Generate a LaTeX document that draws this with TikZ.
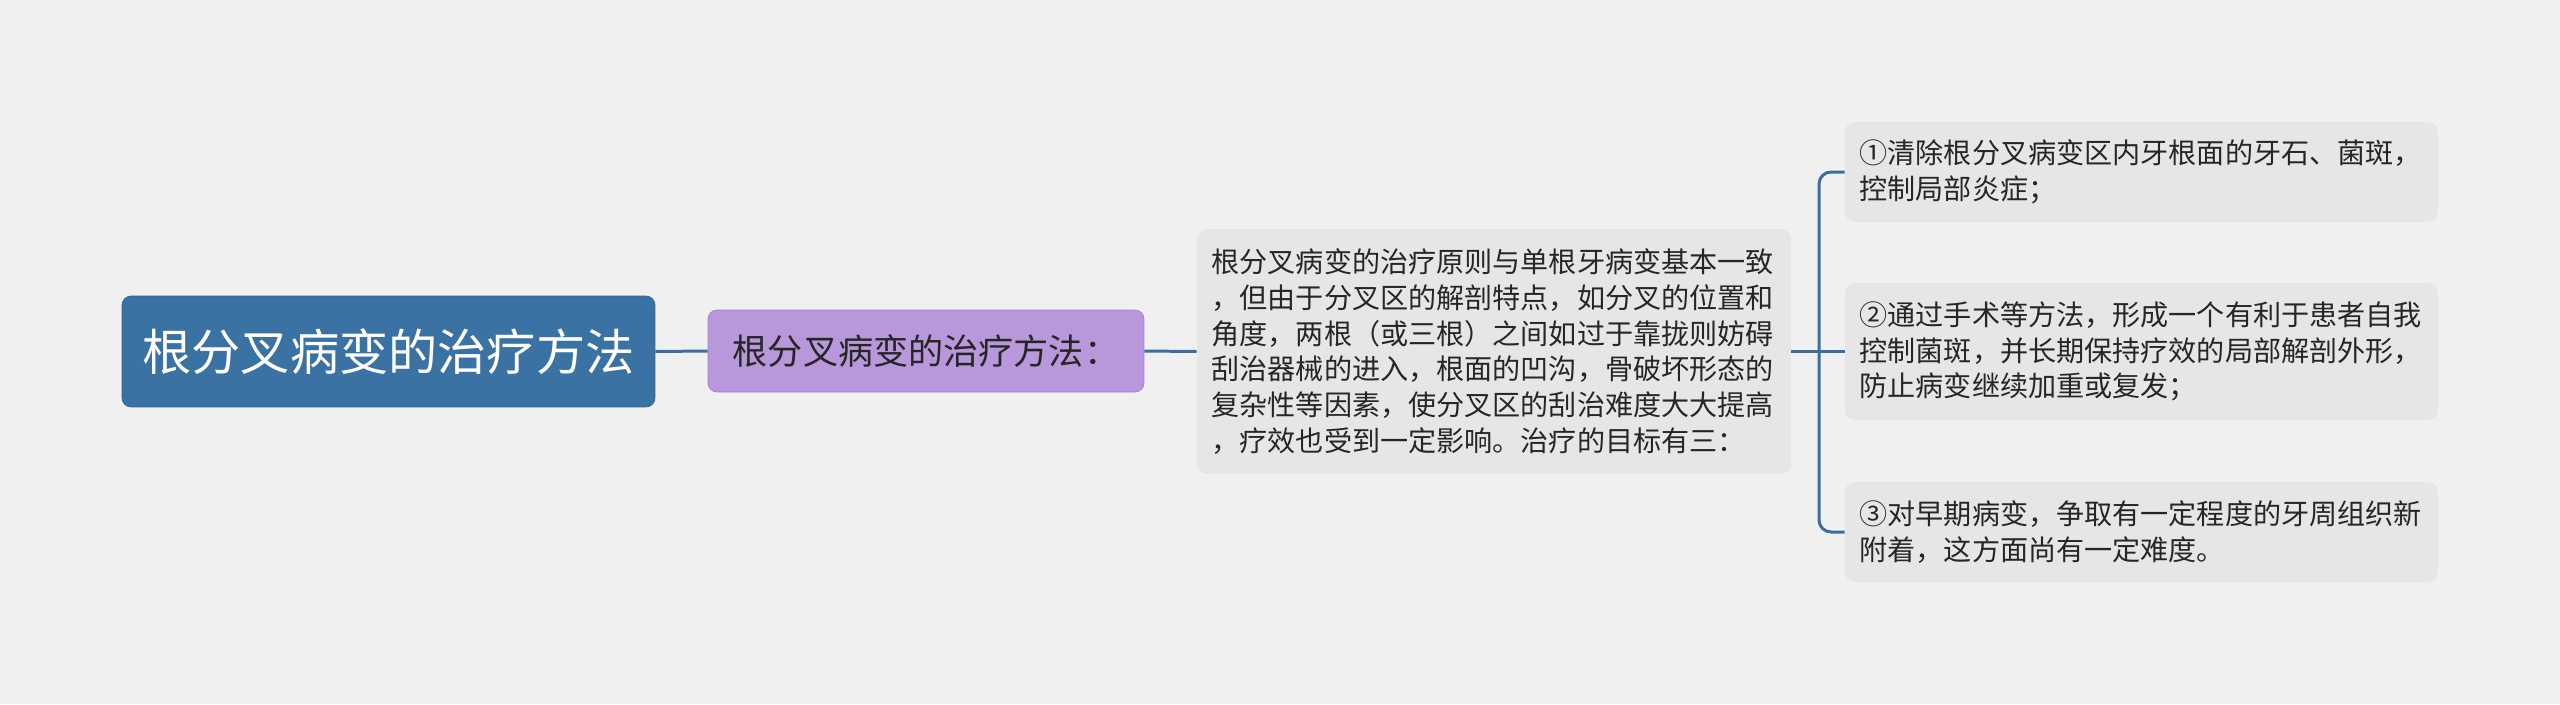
\documentclass[tikz,border=0pt]{standalone}
\usepackage{fontspec}
\setmainfont{Noto Sans CJK SC}
\usepackage{xcolor}
\definecolor{bgcol}{HTML}{F0F0F0}
\definecolor{rootcol}{HTML}{3B72A4}
\definecolor{rootline}{HTML}{2F6391}
\definecolor{lilac}{HTML}{B897DA}
\definecolor{lilacline}{HTML}{A17FCB}
\definecolor{leafcol}{HTML}{E6E6E6}
\definecolor{linkcol}{HTML}{3A6E9E}
\definecolor{txtcol}{HTML}{262626}

\begin{document}
\begin{tikzpicture}[x=0.02cm,y=-0.02cm,
	rootbox/.style={draw=rootline,fill=rootcol,rounded corners=0.18cm,text=white,
		minimum width=10.66cm,minimum height=2.22cm,font=\fontsize{28pt}{33pt}\selectfont},
	subbox/.style={draw=lilacline,fill=lilac,rounded corners=0.18cm,text=txtcol,
		minimum width=8.72cm,minimum height=1.64cm,font=\fontsize{20pt}{24pt}\selectfont},
	leaf/.style={fill=leafcol,rounded corners=0.2cm,text=txtcol,align=left,
		text width=11.3cm,inner xsep=0.29cm,inner ysep=0pt,
		font=\fontsize{16pt}{20.4pt}\selectfont},
	link/.style={linkcol,line width=1.7pt,rounded corners=0.24cm}]
	
	%--- Nền ---
	\fill[bgcol] (0,0) rectangle (2560,704);
	\useasboundingbox (0,0) rectangle (2560,704);
	
	%--- Các nút ---
	\node[rootbox] (root) at (388.5,351.5) {根分叉病变的治疗方法};
	\node[subbox] (sub) at (926,351) {根分叉病变的治疗方法：};
	\node[leaf,minimum height=4.9cm] (mid) at (1494,351.5)
		{根分叉病变的治疗原则与单根牙病变基本一致\\
		，但由于分叉区的解剖特点，如分叉的位置和\\
		角度，两根（或三根）之间如过于靠拢则妨碍\\
		刮治器械的进入，根面的凹沟，骨破坏形态的\\
		复杂性等因素，使分叉区的刮治难度大大提高\\
		，疗效也受到一定影响。治疗的目标有三：};
	\node[leaf,minimum height=2.0cm,text width=11.28cm] (goal1) at (2141.5,172)
		{①清除根分叉病变区内牙根面的牙石、菌斑，\\
		控制局部炎症；};
	\node[leaf,minimum height=2.74cm,text width=11.28cm] (goal2) at (2141.5,351.5)
		{②通过手术等方法，形成一个有利于患者自我\\
		控制菌斑，并长期保持疗效的局部解剖外形，\\
		防止病变继续加重或复发；};
	\node[leaf,minimum height=2.0cm,text width=11.28cm] (goal3) at (2141.5,532)
		{③对早期病变，争取有一定程度的牙周组织新\\
		附着，这方面尚有一定难度。};
	
	%--- Đường nối ---
	\coordinate (fork) at (1819,351.5);
	\draw[link] (root.east) -- (sub.west);
	\draw[link] (sub.east) -- (mid.west);
	\draw[link] (mid.east) -- (goal2.west);
	\draw[link] (goal1.west) -| (fork) |- (goal3.west);
	
\end{tikzpicture}
\end{document}
